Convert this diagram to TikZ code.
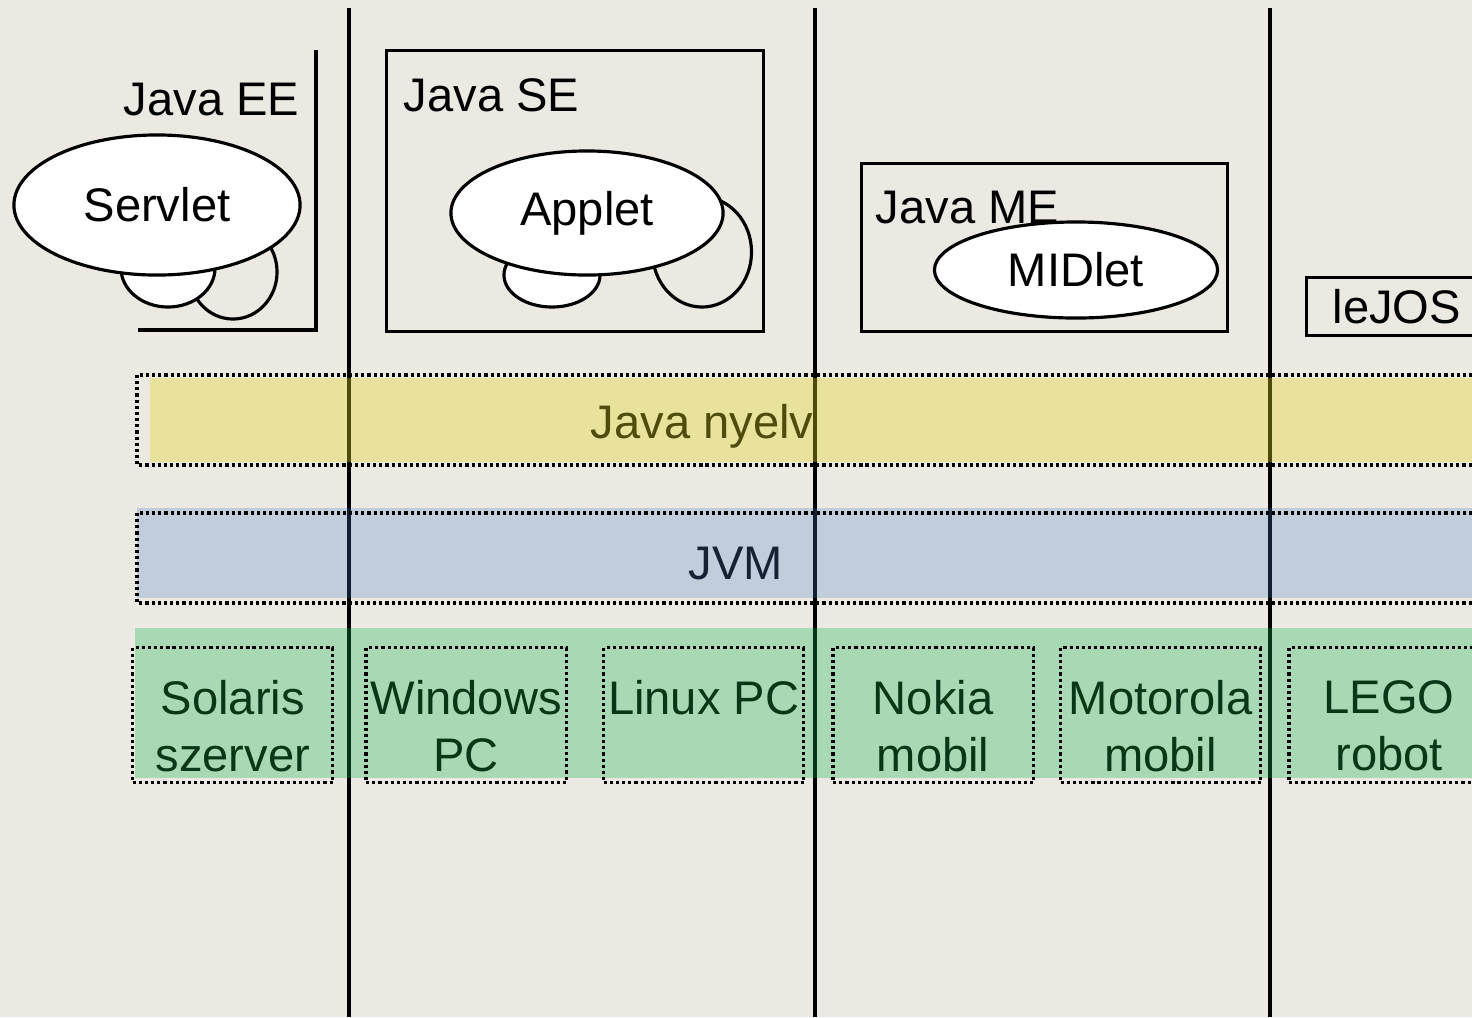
\documentclass[tikz,border=0pt]{standalone}
\usepackage{fontspec}
\setmainfont{Liberation Sans}
\usetikzlibrary{shapes.geometric, positioning}

\definecolor{bgcol}{RGB}{236,233,227}
\definecolor{langcol}{RGB}{226,214,29}
\definecolor{vmcol}{RGB}{72,124,200}
\definecolor{oscol}{RGB}{17,177,73}
\definecolor{langtext}{RGB}{79,75,10}
\definecolor{vmtext}{RGB}{22,34,52}
\definecolor{ostext}{RGB}{8,55,24}

\tikzset{
	frame/.style={draw, line width=0.9pt},
	blob/.style={ellipse, draw, line width=0.9pt, inner sep=0pt},
	dotline/.style={draw, line width=0.95pt, dash pattern=on 0.9pt off 0.85pt},
	plat/.style={dotline, minimum width=2cm, minimum height=1.35cm, inner sep=0pt},
	platname/.style={text=ostext, align=center, inner sep=0pt},
	title/.style={anchor=west, inner sep=0pt}
}

\begin{document}
\begin{tikzpicture}[x=0.01cm, y=-0.01cm, every node/.style={font=\fontsize{13.4}{16.2}\selectfont}]
	\fill[bgcol] (0,0) rectangle (1472,1017);
	\useasboundingbox (0,0) rectangle (1472,1017);
	\clip (0,0) rectangle (1472,1017);

	\foreach \x in {349,815,1270}
		\draw[line width=0.9pt] (\x,8) -- (\x,1017);

	\draw[frame] (138,330) -- (316,330) -- (316,50);
	\node[title] (ee) at (123,100) {Java EE};
	\node[blob, minimum width=0.88cm, minimum height=0.94cm] (sv2) at (233,272) {};
	\node[blob, fill=white, minimum width=0.94cm, minimum height=0.78cm] (sv1) at (168,268) {};
	\node[blob, fill=white, minimum width=2.86cm, minimum height=1.4cm] (servlet) at (157,205) {Servlet};

	\node[frame, anchor=north west, minimum width=3.77cm, minimum height=2.81cm] (se) at (385,49) {};
	\node[title] (setitle) at (403,95) {Java SE};
	\node[blob, minimum width=0.99cm, minimum height=1.1cm] (ap2) at (702,252) {};
	\node[blob, fill=white, minimum width=0.96cm, minimum height=0.64cm] (ap1) at (552,275) {};
	\node[blob, fill=white, minimum width=2.72cm, minimum height=1.24cm] (applet) at (587,213) {Applet};

	\node[frame, anchor=north west, minimum width=3.66cm, minimum height=1.68cm] (me) at (860,162) {};
	\node[title] (metitle) at (875,208) {Java ME};
	\node[blob, fill=white, minimum width=2.83cm, minimum height=0.96cm] (midlet) at (1076,270) {MIDlet};

	\node[frame, anchor=north west, inner xsep=0.26cm, minimum height=0.57cm] (lejos) at (1305,276) {leJOS};

	\fill[langcol, fill opacity=0.35] (150,378) rectangle (1472,462);
	\draw[dotline] (137,375) rectangle (1490,465);
	\node[text=langtext] (nyelv) at (702,426) {Java nyelv};

	\fill[vmcol, fill opacity=0.25] (137,508) rectangle (1472,598);
	\draw[dotline] (137,513) rectangle (1490,603);
	\node[text=vmtext] (jvm) at (736,564) {JVM};

	\fill[oscol, fill opacity=0.3] (135,628) rectangle (1472,778);
	\node[plat, anchor=north west] (sol) at (131,646) {};
	\node[plat, right=0.30cm of sol] (win) {};
	\node[plat, right=0.34cm of win] (lin) {};
	\node[plat, right=0.26cm of lin] (nok) {};
	\node[plat, right=0.24cm of nok] (mot) {};
	\node[plat, right=0.25cm of mot] (lego) {};

	\node[platname, below=0.34cm of sol.north] (soltext) {Solaris\\szerver};
	\node[platname, below=0.34cm of win.north] (wintext) {Windows\\PC};
	\node[platname, below=0.34cm of lin.north] (lintext) {Linux PC};
	\node[platname, below=0.34cm of nok.north] (noktext) {Nokia\\mobil};
	\node[platname, below=0.34cm of mot.north] (mottext) {Motorola\\mobil};
	\node[platname, below=0.34cm of lego.north] (legotext) {LEGO\\robot};
\end{tikzpicture}
\end{document}
